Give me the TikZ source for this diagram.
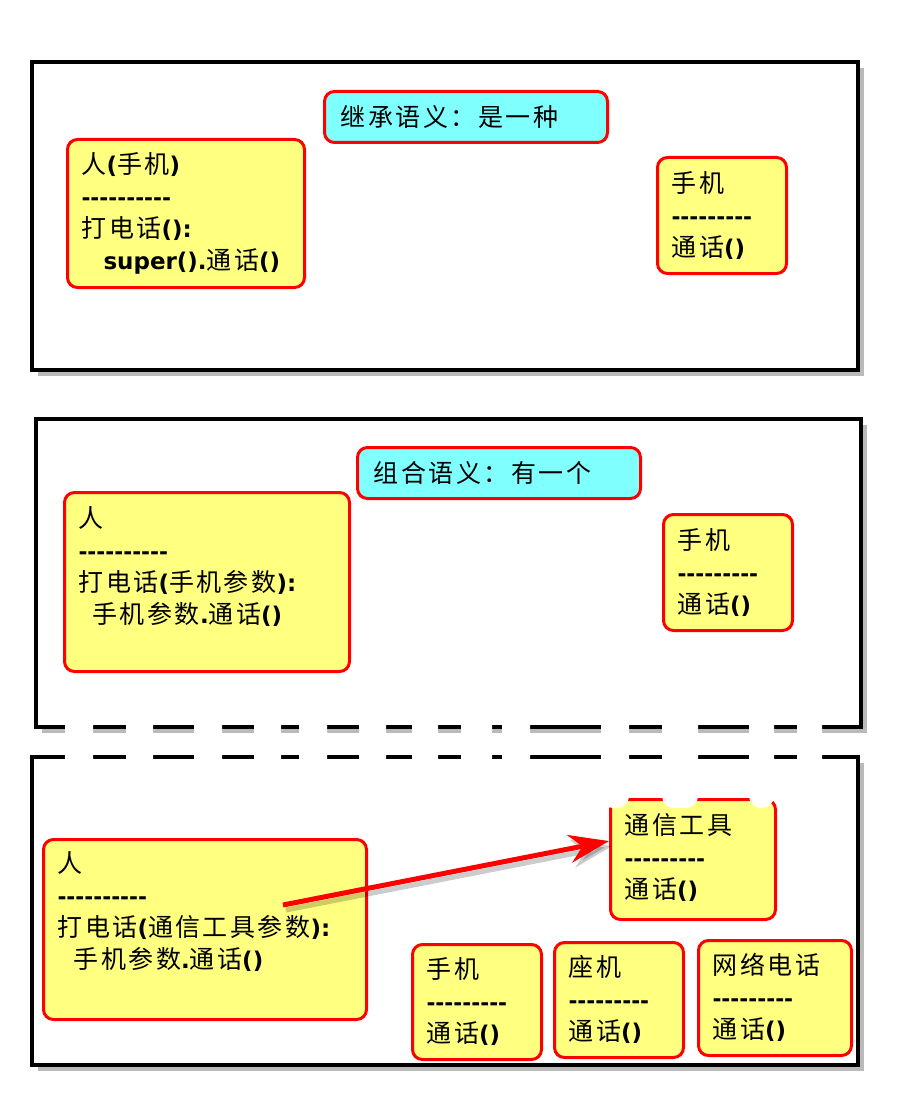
\documentclass[tikz,border=0pt]{standalone}
\usepackage{fontspec}
\setmainfont{Noto Sans CJK SC}[LetterSpace=10]
\newfontfamily\latbf{DejaVu Sans Bold}
\usetikzlibrary{arrows.meta,shadows,calc}
\definecolor{noteyellow}{RGB}{255,255,128}
\definecolor{titlecyan}{RGB}{128,255,255}
\newcommand\lb[1]{{\latbf\fontsize{11.5}{16}\selectfont #1}}
\newcommand\dashrow[1]{{\latbf\fontsize{10.8}{16}\selectfont\foreach\k in {1,...,#1}{-\kern0pt}}}
\begin{document}
\begin{tikzpicture}[x=0.5pt,y=-0.5pt,
    font=\fontsize{12.5}{16}\selectfont,
    panel/.style={draw=black,line width=2pt,fill=white,drop shadow={shadow xshift=3pt,shadow yshift=-3pt,opacity=0.45,fill=black!60}},
    title/.style={draw=red,line width=1.5pt,fill=titlecyan,rounded corners=5pt,anchor=north west,text width=125.5pt,inner xsep=8pt,minimum height=25.5pt,align=left},
    note/.style={draw=red,line width=1.5pt,fill=noteyellow,rounded corners=5pt,anchor=north west,align=left,inner xsep=7pt,inner ysep=0pt,text height=17.5pt,text depth=40.5pt,text width=50.5pt},
    pointer/.style={red,line width=2.5pt,-{Stealth[length=20pt,width=14pt]}}]
    \useasboundingbox (0,0) rectangle (913,1118);
    \draw[panel] (32,62) rectangle (858,370);
    \draw[panel] (36,419) rectangle (861,727);
    \draw[panel] (32,757) rectangle (858,1065);

    \node[title] (inherit) at (323,90) {继承语义：是一种};
    \node[note,text width=104.5pt,text height=17pt,text depth=57pt] (personA) at (66,138)
        {人\lb{(}手机\lb{)}\\\dashrow{10}\\打电话\lb{():}\\\hspace*{11pt}\lb{super().}通话\lb{()}};
    \node[note] (phoneA) at (656,156) {手机\\\dashrow{9}\\通话\lb{()}};

    \node[title] (compose) at (356,446) {组合语义：有一个};
    \node[note,text width=128.5pt,text depth=72pt] (personB) at (63,491)
        {人\\\dashrow{10}\\打电话\lb{(}手机参数\lb{):}\\\hspace*{7pt}手机参数\lb{.}通话\lb{()}};
    \node[note] (phoneB) at (662,513) {手机\\\dashrow{9}\\通话\lb{()}};

    \node[note,text width=147.5pt,text height=16.5pt,text depth=73.5pt] (personC) at (42,838)
        {人\\\dashrow{10}\\打电话\lb{(}通信工具参数\lb{):}\\\hspace*{8pt}手机参数\lb{.}通话\lb{()}};
    \node[note,text width=68.5pt,text depth=42.5pt] (device) at (609,798) {通信工具\\\dashrow{9}\\通话\lb{()}};
    \node[note,text height=17pt] (mobile) at (411,943) {手机\\\dashrow{9}\\通话\lb{()}};
    \node[note,text height=17pt] (landline) at (553,941) {座机\\\dashrow{9}\\通话\lb{()}};
    \node[note,text width=62.5pt,text height=17pt] (netphone) at (697,939) {网络电话\\\dashrow{9}\\通话\lb{()}};

    \coordinate (tail) at (283,905);
    \coordinate (tip) at ($(device.north west)!0.35!(device.south west)$);
    \draw[pointer,draw=black,opacity=0.2] ([shift={(3,5)}]tail) -- ([shift={(3,5)}]tip);
    \draw[pointer] (tail) -- (tip);

    \foreach \l/\r in {65/93,126/153,194/222,254/281,299/327,359/386,412/438,461/492,502/530,601/629,662/698,749/774,797/822}
        \fill[white,rounded corners=6pt] (\l,705) rectangle (\r,808);
\end{tikzpicture}
\end{document}
